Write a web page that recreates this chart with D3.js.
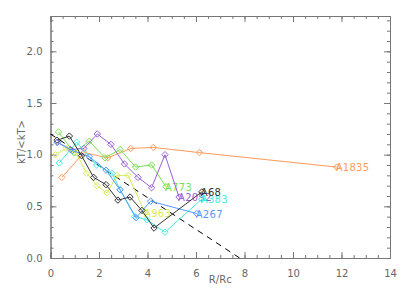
<!DOCTYPE html>
<html>
<head>
<meta charset="utf-8">
<script src="https://cdn.jsdelivr.net/npm/d3@7"></script>
<style>
  body { margin: 0; background: #fff; }
  svg text { font-family: "DejaVu Sans", sans-serif; }
</style>
</head>
<body>
<svg id="chart" width="409" height="292"></svg>
<script>
// profile data, R/Rc vs kT/<kT>
const a1835X = [0.47, 1.38, 2.36, 3.31, 4.24, 6.14, 11.80];
const a1835Y = [0.78, 1.02, 0.97, 1.06, 1.07, 1.02, 0.88];

const a773X = [0.33, 0.97, 1.60, 2.25, 2.87, 3.51, 4.17, 4.76];
const a773Y = [1.22, 1.02, 1.13, 0.97, 1.05, 0.88, 0.90, 0.69];

const a2092X = [0.27, 0.82, 1.38, 1.93, 2.49, 3.05, 3.61, 4.17, 4.72, 5.30];
const a2092Y = [1.12, 1.05, 1.06, 1.20, 1.10, 0.91, 0.78, 0.68, 1.00, 0.59];

const a963X = [0.21, 0.64, 1.05, 1.49, 1.92, 2.33, 2.74, 3.20, 3.90];
const a963Y = [1.00, 1.06, 1.02, 0.82, 0.70, 0.63, 0.80, 0.80, 0.44];

const a383X = [0.36, 1.08, 1.90, 2.54, 2.87, 3.48, 3.98, 4.72, 6.24];
const a383Y = [0.92, 1.12, 0.90, 0.82, 0.66, 0.40, 0.37, 0.25, 0.57];

const a267X = [0.29, 0.90, 1.60, 2.29, 2.87, 3.53, 4.13, 6.03];
const a267Y = [1.12, 1.04, 0.98, 0.85, 0.66, 0.39, 0.55, 0.43];

const a68X = [0.27, 0.78, 1.28, 1.78, 2.29, 2.78, 3.28, 3.77, 4.27, 6.24];
const a68Y = [1.14, 1.18, 0.99, 0.78, 0.71, 0.56, 0.59, 0.46, 0.29, 0.64];

const seriesNames = ["A1835", "A773", "A2092", "A963", "A383", "A267", "A68"];
const seriesColors = ["#ff9a5a", "#77e050", "#9960d8", "#d8ec55", "#44eedd", "#5599ff", "#333333"];

// dashed reference line: kT/<kT> = 1.2 - 0.154 R/Rc
const refX = [0, 7.8];
const refY = [1.2, 0.0];

const xTicks = [0, 2, 4, 6, 8, 10, 12, 14];
const yTicks = [0.0, 0.5, 1.0, 1.5, 2.0];

const series = [
  [a1835X, a1835Y], [a773X, a773Y], [a2092X, a2092Y], [a963X, a963Y],
  [a383X, a383Y], [a267X, a267Y], [a68X, a68Y]
].map((s, i) => ({
  name: seriesNames[i],
  color: seriesColors[i],
  pts: s[0].map((x, j) => ({x: x, y: s[1][j]}))
}));

const svg = d3.select("#chart");
const m = {left: 50.5, right: 390, top: 16, bottom: 258};
const axisColor = "#777";

const x = d3.scaleLinear().domain([0, 14]).range([m.left, m.right]);
const y = d3.scaleLinear().domain([0, 2.342]).range([m.bottom, m.top]);

// axes, ticks point inward
function drawAxis(axis, transform) {
  const g = svg.append("g").attr("transform", transform).call(axis);
  g.select(".domain").attr("stroke", axisColor);
  g.selectAll("line").attr("stroke", axisColor);
  g.selectAll("text").attr("fill", "#666").attr("font-size", 10);
  return g;
}

const xMinor = d3.range(0, 14.01, 0.5);
const yMinor = d3.range(0, 2.34, 0.1);

drawAxis(d3.axisBottom(x).tickValues(xMinor).tickSize(-3).tickFormat(""), `translate(0,${m.bottom})`);
drawAxis(d3.axisBottom(x).tickValues(xTicks).tickSize(-6).tickPadding(12).tickFormat(d3.format("d")), `translate(0,${m.bottom})`);
drawAxis(d3.axisTop(x).tickValues(xMinor).tickSize(-3).tickFormat(""), `translate(0,${m.top})`);
drawAxis(d3.axisTop(x).tickValues(xTicks).tickSize(-6).tickFormat(""), `translate(0,${m.top})`);

drawAxis(d3.axisLeft(y).tickValues(yMinor).tickSize(-3).tickFormat(""), `translate(${m.left},0)`);
drawAxis(d3.axisLeft(y).tickValues(yTicks).tickSize(-6).tickPadding(8).tickFormat(d3.format(".1f")), `translate(${m.left},0)`);
drawAxis(d3.axisRight(y).tickValues(yMinor).tickSize(-3).tickFormat(""), `translate(${m.right},0)`);
drawAxis(d3.axisRight(y).tickValues(yTicks).tickSize(-6).tickFormat(""), `translate(${m.right},0)`);

svg.append("text")
  .attr("x", (m.left + m.right) / 2).attr("y", 283)
  .attr("text-anchor", "middle").attr("font-size", 10).attr("fill", "#666")
  .text("R/Rc");

svg.append("text")
  .attr("transform", `translate(25,142) rotate(-90)`)
  .attr("text-anchor", "middle").attr("font-size", 10).attr("fill", "#666")
  .text("kT/<kT>");

const plot = svg.append("g");

plot.append("path")
  .datum(refX.map((d, i) => ({x: d, y: refY[i]})))
  .attr("fill", "none").attr("stroke", "#000").attr("stroke-width", 1)
  .attr("stroke-dasharray", "6,5")
  .attr("d", d3.line().x(d => x(d.x)).y(d => y(d.y)));

const line = d3.line().x(d => x(d.x)).y(d => y(d.y));
const diamond = d3.symbol().type(d3.symbolDiamond2).size(26);

series.forEach(s => {
  const g = plot.append("g");
  g.append("path").datum(s.pts)
    .attr("fill", "none").attr("stroke", s.color).attr("stroke-width", 1)
    .attr("d", line);
  g.selectAll("path.pt").data(s.pts).enter().append("path")
    .attr("class", "pt")
    .attr("transform", d => `translate(${x(d.x)},${y(d.y)})`)
    .attr("d", diamond)
    .attr("fill", "none").attr("stroke", s.color).attr("stroke-width", 1);
  const last = s.pts[s.pts.length - 1];
  g.append("text")
    .attr("x", x(last.x) - 1).attr("y", y(last.y) + 4)
    .attr("font-size", 10).attr("letter-spacing", 0.3).attr("fill", s.color)
    .text(s.name);
});
</script>
</body>
</html>
